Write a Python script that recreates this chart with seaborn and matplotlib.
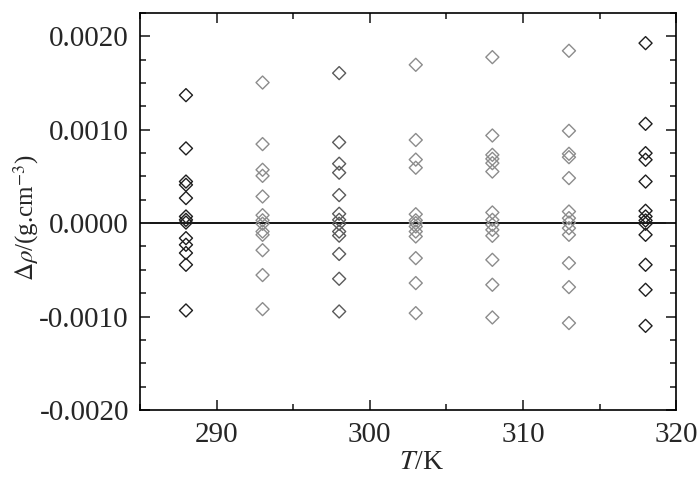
import numpy as np
import pandas as pd
import matplotlib
matplotlib.use("Agg")
import matplotlib.pyplot as plt
import seaborn as sns
from matplotlib.ticker import MultipleLocator, FuncFormatter

# density deviations (g/cm3) at each temperature (units of 1e-3)
temps = [288, 293, 298, 303, 308, 313, 318]
dev_288 = [1.37, 0.80, 0.445, 0.41, 0.268, 0.071, 0.035, 0.006, -0.161, -0.232, -0.32, -0.446, -0.935]
dev_293 = [1.505, 0.846, 0.571, 0.506, 0.285, 0.085, 0.03, -0.007, -0.09, -0.125, -0.29, -0.556, -0.921]
dev_298 = [1.606, 0.865, 0.636, 0.54, 0.30, 0.10, 0.035, -0.007, -0.09, -0.134, -0.33, -0.596, -0.946]
dev_303 = [1.695, 0.89, 0.68, 0.593, 0.095, 0.03, 0.0, -0.036, -0.09, -0.143, -0.375, -0.642, -0.964]
dev_308 = [1.777, 0.938, 0.731, 0.688, 0.642, 0.552, 0.114, 0.035, -0.018, -0.072, -0.136, -0.393, -0.66, -1.01]
dev_313 = [1.845, 0.988, 0.742, 0.706, 0.482, 0.124, 0.053, 0.006, -0.054, -0.125, -0.428, -0.685, -1.07]
dev_318 = [1.927, 1.063, 0.749, 0.678, 0.445, 0.132, 0.071, 0.028, -0.007, -0.125, -0.446, -0.714, -1.10]
colors = ["#1e1e1e", "#8c8c8c", "#5a5a5a", "#8c8c8c", "#8c8c8c", "#8c8c8c", "#1e1e1e"]

all_devs = [dev_288, dev_293, dev_298, dev_303, dev_308, dev_313, dev_318]
rows = []
for t, devs in zip(temps, all_devs):
    for d in devs:
        rows.append({"T": t, "drho": d * 1e-3, "group": str(t)})
df = pd.DataFrame(rows)

sns.set_style("ticks")
plt.rcParams["font.family"] = ["Liberation Serif", "DejaVu Serif"]
plt.rcParams["mathtext.fontset"] = "stix"
plt.rcParams["axes.unicode_minus"] = False

fig = plt.figure(figsize=(7, 4.8), dpi=100)
ax = fig.add_axes([0.2, 0.146, 0.766, 0.827])

palette = {str(t): c for t, c in zip(temps, colors)}
sns.scatterplot(data=df, x="T", y="drho", hue="group", palette=palette,
                marker="D", s=44, linewidth=1.0, legend=False, ax=ax)
# seaborn fills markers; make them hollow using the hue colour as edge
for coll in ax.collections:
    fc = coll.get_facecolors()
    coll.set_edgecolors(fc)
    coll.set_facecolors("none")

ax.axhline(0, color="black", lw=1.3, zorder=0)

ax.set_xlim(285, 320)
ax.set_ylim(-0.002, 0.00225)
ax.xaxis.set_major_locator(MultipleLocator(10))
ax.xaxis.set_minor_locator(MultipleLocator(5))
ax.yaxis.set_major_locator(MultipleLocator(0.001))
ax.yaxis.set_minor_locator(MultipleLocator(0.00025))
ax.yaxis.set_major_formatter(FuncFormatter(lambda v, p: f"{v:.4f}" if abs(v) > 1e-9 else "0.0000"))
ax.tick_params(which="both", direction="in", top=True, right=True, labelsize=21, width=1.2)
ax.tick_params(which="major", length=7)
ax.tick_params(which="minor", length=4)
ax.tick_params(axis="x", which="major", pad=9)
ax.tick_params(axis="y", which="major", pad=8)
for sp in ax.spines.values():
    sp.set_linewidth(1.2)
    sp.set_color("black")

ax.set_xlabel(r"$T$/K", fontsize=20)
ax.set_ylabel(r"$\Delta\rho$/(g.cm$^{-3}$)", fontsize=18)
ax.xaxis.set_label_coords(0.524, -0.1)
ax.yaxis.set_label_coords(-0.185, 0.484)

fig.savefig("out.png", dpi=100)
